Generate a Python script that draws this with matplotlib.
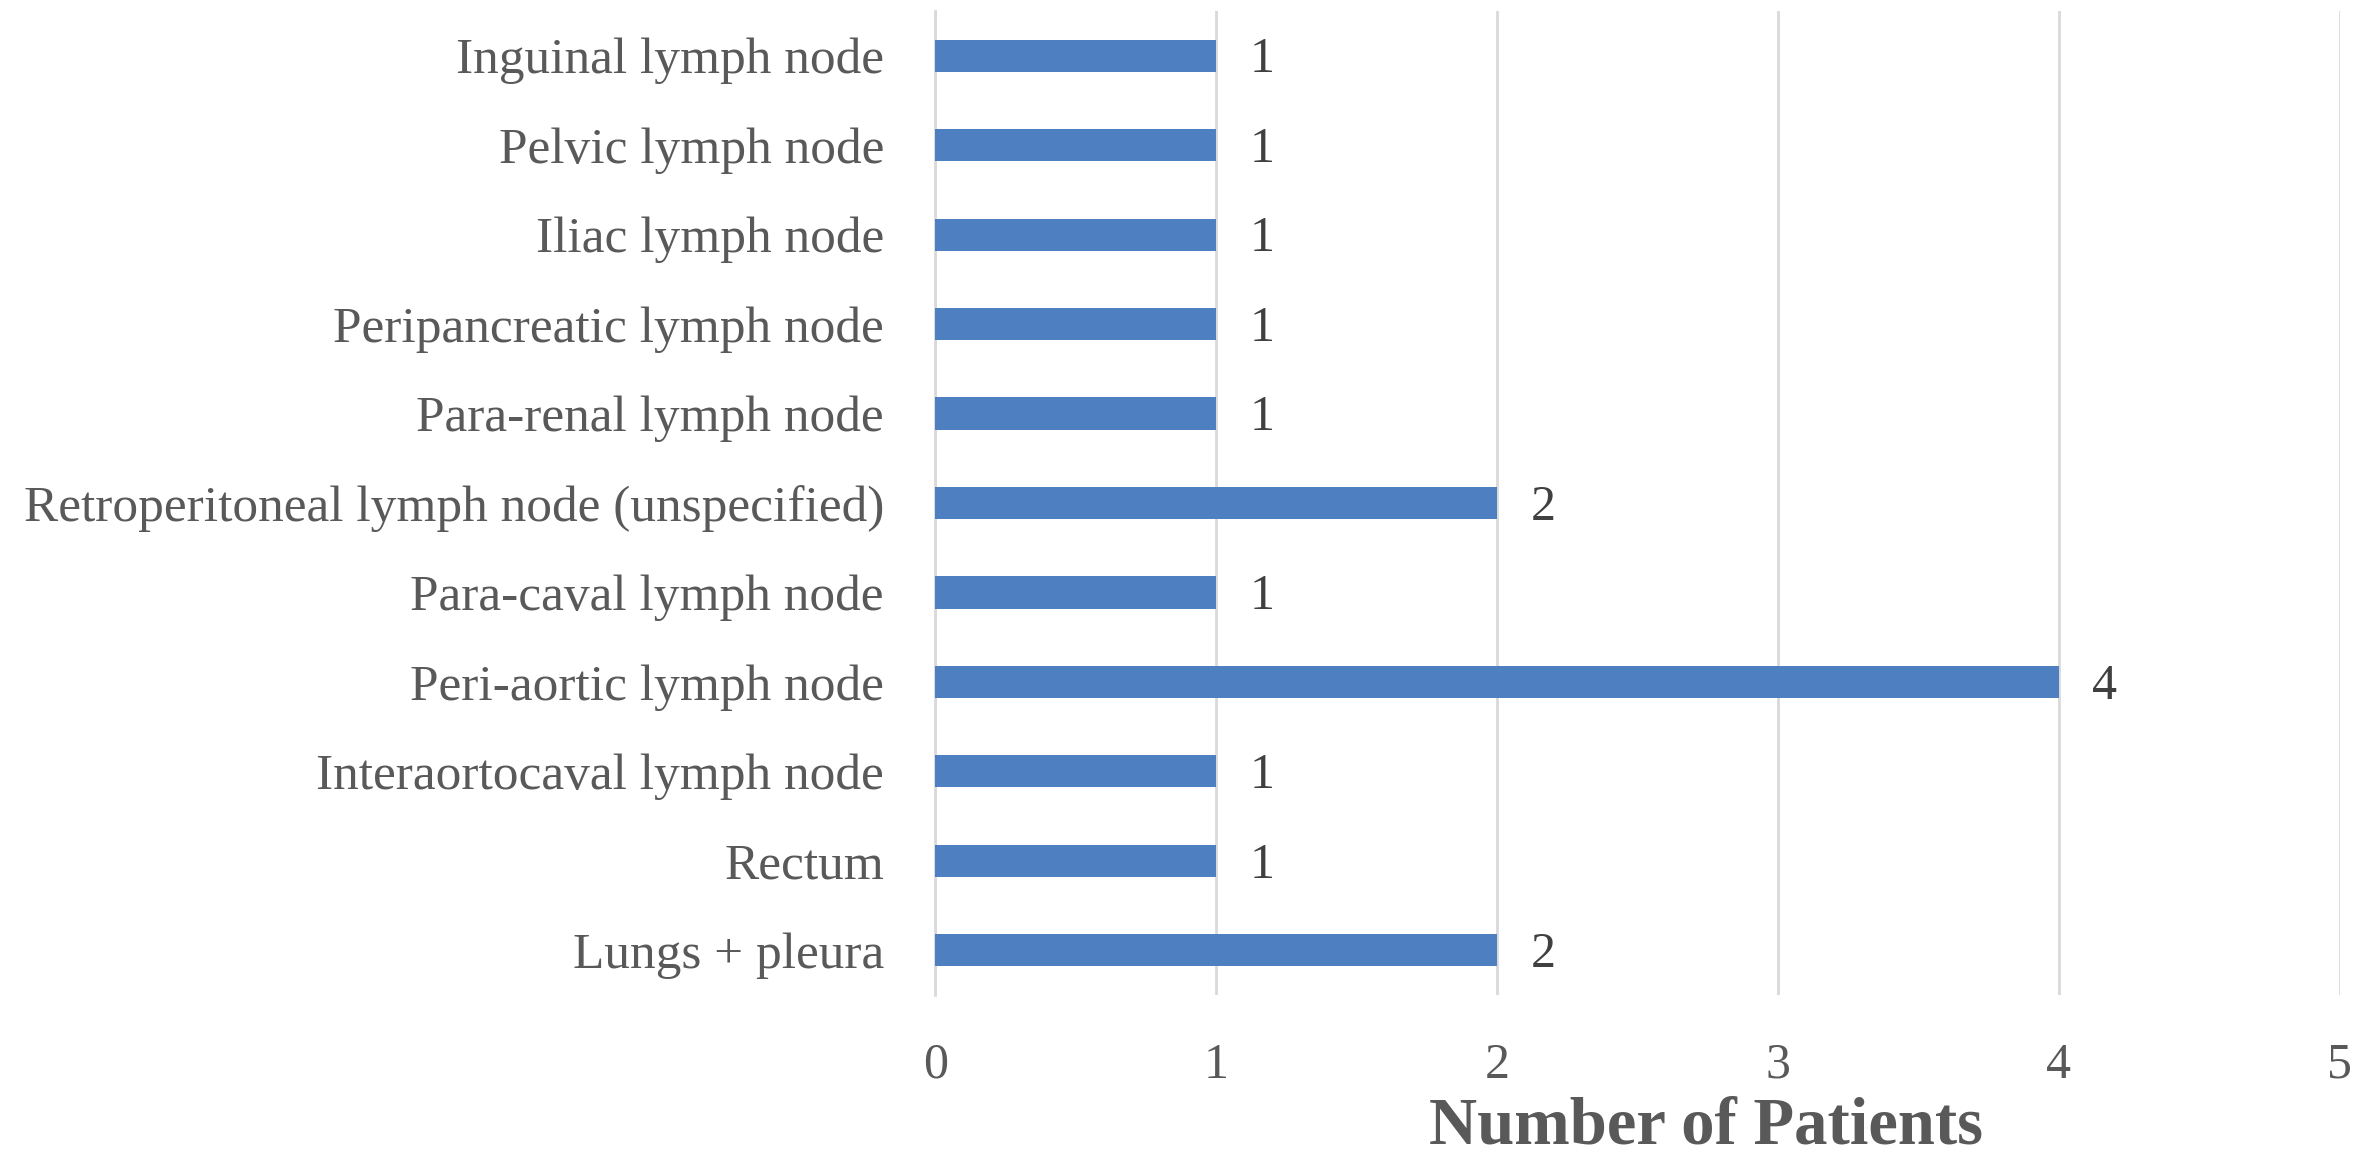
import matplotlib.pyplot as plt
import numpy as np

sites = ['Lungs + pleura', 'Rectum', 'Interaortocaval lymph node',
         'Peri-aortic lymph node', 'Para-caval lymph node',
         'Retroperitoneal lymph node (unspecified)', 'Para-renal lymph node',
         'Peripancreatic lymph node', 'Iliac lymph node',
         'Pelvic lymph node', 'Inguinal lymph node']
patients = [2, 1, 1, 4, 1, 2, 1, 1, 1, 1, 1]
xticks = [0, 1, 2, 3, 4, 5]

plt.rcParams['font.family'] = ['Liberation Serif', 'DejaVu Serif']

fig = plt.figure(figsize=(23.56, 11.59), dpi=100)
ax = fig.add_axes([0.397, 0.1415, 0.596, 0.849])

y = np.arange(len(sites))
bars = ax.barh(y, patients, height=0.36, color='#4e7fc0', zorder=3)
for yi, v in zip(y, patients):
    ax.text(v + 0.12, yi - 0.05, str(v), va='center', ha='left', fontsize=36,
            color='#404040')

ax.set_xlim(0, 5)
ax.set_ylim(-0.5, len(sites) - 0.5)
ax.set_xticks(xticks)
ax.set_yticks(y)
ax.set_yticklabels(sites)
ax.tick_params(axis='y', length=0, pad=37, labelsize=37, labelcolor='#595959')
ax.tick_params(axis='x', length=0, pad=34, labelsize=36, labelcolor='#595959')

ax.grid(axis='x', color='#d9d9d9', linewidth=2, zorder=0)
for s in ['top', 'right', 'bottom']:
    ax.spines[s].set_visible(False)
ax.spines['left'].set_color('#d9d9d9')
ax.spines['left'].set_linewidth(2)

ax.set_xlabel('Number of Patients', fontsize=48, fontweight='bold',
              color='#595959')
ax.xaxis.label.set_va('center')
ax.xaxis.set_label_coords(0.549, -0.134)

fig.savefig('out.png', dpi=100)
